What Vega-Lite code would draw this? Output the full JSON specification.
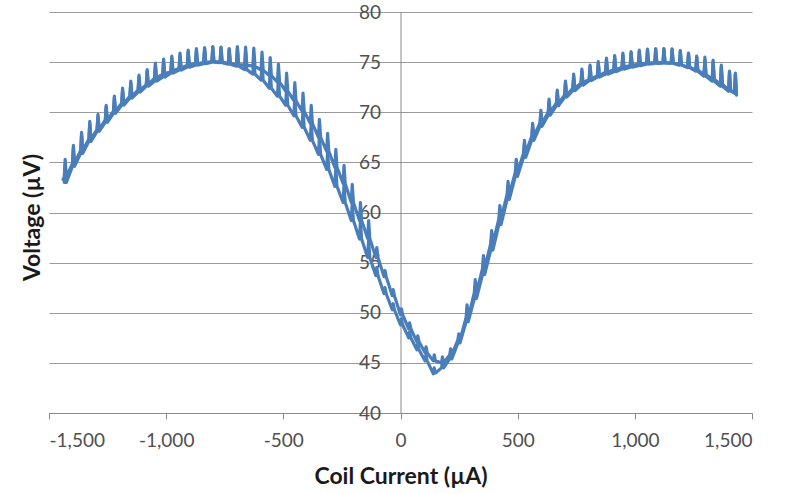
{
"$schema":"https://vega.github.io/schema/vega-lite/v6.json",
"width":703,"height":401,
"autosize":{"type":"none"},
"padding":{"left":49,"top":12,"right":38,"bottom":81},
"background":"#ffffff",
"config":{"view":{"stroke":null},"font":"Lato"},
"data":{"values":[
{"s":"A","x":-1435,"y":63.0},{"s":"A","x":-1431,"y":64.8},{"s":"A","x":-1426,"y":63.0},
{"s":"A","x":-1400,"y":64.6},{"s":"A","x":-1396,"y":66.4},{"s":"A","x":-1391,"y":64.6},
{"s":"A","x":-1365,"y":65.9},{"s":"A","x":-1361,"y":67.7},{"s":"A","x":-1356,"y":65.9},
{"s":"A","x":-1330,"y":67.1},{"s":"A","x":-1326,"y":68.9},{"s":"A","x":-1321,"y":67.1},
{"s":"A","x":-1295,"y":68.1},{"s":"A","x":-1291,"y":69.6},{"s":"A","x":-1286,"y":68.1},
{"s":"A","x":-1260,"y":69.0},{"s":"A","x":-1256,"y":70.5},{"s":"A","x":-1251,"y":69.0},
{"s":"A","x":-1225,"y":69.9},{"s":"A","x":-1221,"y":71.4},{"s":"A","x":-1216,"y":69.9},
{"s":"A","x":-1190,"y":70.7},{"s":"A","x":-1186,"y":72.2},{"s":"A","x":-1181,"y":70.7},
{"s":"A","x":-1155,"y":71.4},{"s":"A","x":-1151,"y":72.9},{"s":"A","x":-1146,"y":71.4},
{"s":"A","x":-1120,"y":72.0},{"s":"A","x":-1116,"y":73.5},{"s":"A","x":-1111,"y":72.0},
{"s":"A","x":-1085,"y":72.6},{"s":"A","x":-1081,"y":74.1},{"s":"A","x":-1076,"y":72.6},
{"s":"A","x":-1050,"y":73.1},{"s":"A","x":-1046,"y":74.6},{"s":"A","x":-1041,"y":73.1},
{"s":"A","x":-1015,"y":73.5},{"s":"A","x":-1011,"y":75.0},{"s":"A","x":-1006,"y":73.5},
{"s":"A","x":-980,"y":73.9},{"s":"A","x":-976,"y":75.4},{"s":"A","x":-971,"y":73.9},
{"s":"A","x":-945,"y":74.2},{"s":"A","x":-941,"y":75.7},{"s":"A","x":-936,"y":74.2},
{"s":"A","x":-910,"y":74.5},{"s":"A","x":-906,"y":76.0},{"s":"A","x":-901,"y":74.5},
{"s":"A","x":-875,"y":74.7},{"s":"A","x":-871,"y":76.2},{"s":"A","x":-866,"y":74.7},
{"s":"A","x":-840,"y":74.85},{"s":"A","x":-836,"y":76.35},{"s":"A","x":-831,"y":74.85},
{"s":"A","x":-805,"y":75.0},{"s":"A","x":-801,"y":76.5},{"s":"A","x":-796,"y":75.0},
{"s":"A","x":-770,"y":74.95},{"s":"A","x":-766,"y":76.45},{"s":"A","x":-761,"y":74.95},
{"s":"A","x":-735,"y":74.8},{"s":"A","x":-731,"y":76.3},{"s":"A","x":-726,"y":74.8},
{"s":"A","x":-700,"y":74.6},{"s":"A","x":-696,"y":76.4},{"s":"A","x":-691,"y":74.6},
{"s":"A","x":-665,"y":74.25},{"s":"A","x":-661,"y":76.05},{"s":"A","x":-656,"y":74.25},
{"s":"A","x":-630,"y":73.8},{"s":"A","x":-626,"y":75.6},{"s":"A","x":-621,"y":73.8},
{"s":"A","x":-595,"y":73.2},{"s":"A","x":-591,"y":75.0},{"s":"A","x":-586,"y":73.2},
{"s":"A","x":-560,"y":72.4},{"s":"A","x":-556,"y":74.2},{"s":"A","x":-551,"y":72.4},
{"s":"A","x":-525,"y":71.6},{"s":"A","x":-521,"y":73.4},{"s":"A","x":-516,"y":71.6},
{"s":"A","x":-490,"y":70.7},{"s":"A","x":-486,"y":72.5},{"s":"A","x":-481,"y":70.7},
{"s":"A","x":-455,"y":69.65},{"s":"A","x":-451,"y":71.45},{"s":"A","x":-446,"y":69.65},
{"s":"A","x":-420,"y":68.5},{"s":"A","x":-416,"y":70.3},{"s":"A","x":-411,"y":68.5},
{"s":"A","x":-385,"y":67.2},{"s":"A","x":-381,"y":69.0},{"s":"A","x":-376,"y":67.2},
{"s":"A","x":-350,"y":65.8},{"s":"A","x":-346,"y":67.6},{"s":"A","x":-341,"y":65.8},
{"s":"A","x":-315,"y":64.3},{"s":"A","x":-311,"y":66.1},{"s":"A","x":-306,"y":64.3},
{"s":"A","x":-280,"y":62.6},{"s":"A","x":-276,"y":64.4},{"s":"A","x":-271,"y":62.6},
{"s":"A","x":-245,"y":61.0},{"s":"A","x":-241,"y":62.8},{"s":"A","x":-236,"y":61.0},
{"s":"A","x":-210,"y":59.2},{"s":"A","x":-206,"y":61.0},{"s":"A","x":-201,"y":59.2},
{"s":"A","x":-175,"y":57.35},{"s":"A","x":-171,"y":59.15},{"s":"A","x":-166,"y":57.35},
{"s":"A","x":-140,"y":55.5},{"s":"A","x":-136,"y":57.3},{"s":"A","x":-131,"y":55.5},
{"s":"A","x":-105,"y":53.7},{"s":"A","x":-101,"y":54.5},{"s":"A","x":-96,"y":53.7},
{"s":"A","x":-70,"y":51.9},{"s":"A","x":-66,"y":52.5},{"s":"A","x":-61,"y":51.9},
{"s":"A","x":-35,"y":50.3},{"s":"A","x":-31,"y":50.9},{"s":"A","x":-26,"y":50.3},
{"s":"A","x":0,"y":48.8},{"s":"A","x":4,"y":49.4},{"s":"A","x":9,"y":48.8},
{"s":"A","x":35,"y":47.5},{"s":"A","x":39,"y":48.1},{"s":"A","x":44,"y":47.5},
{"s":"A","x":70,"y":46.3},{"s":"A","x":74,"y":46.9},{"s":"A","x":79,"y":46.3},
{"s":"A","x":105,"y":45.2},{"s":"A","x":109,"y":45.8},{"s":"A","x":114,"y":45.2},
{"s":"A","x":140,"y":43.9},{"s":"A","x":144,"y":44.5},{"s":"A","x":149,"y":44.0},
{"s":"A","x":175,"y":44.5},{"s":"A","x":179,"y":45.1},{"s":"A","x":184,"y":44.5},
{"s":"A","x":210,"y":45.4},{"s":"A","x":214,"y":46.0},{"s":"A","x":219,"y":45.4},
{"s":"A","x":245,"y":47.0},{"s":"A","x":249,"y":47.6},{"s":"A","x":254,"y":47.0},
{"s":"A","x":280,"y":49.1},{"s":"A","x":284,"y":50.4},{"s":"A","x":289,"y":49.1},
{"s":"A","x":315,"y":51.4},{"s":"A","x":319,"y":52.7},{"s":"A","x":324,"y":51.4},
{"s":"A","x":350,"y":53.8},{"s":"A","x":354,"y":55.1},{"s":"A","x":359,"y":53.8},
{"s":"A","x":385,"y":56.25},{"s":"A","x":389,"y":57.55},{"s":"A","x":394,"y":56.25},
{"s":"A","x":420,"y":58.8},{"s":"A","x":424,"y":60.1},{"s":"A","x":429,"y":58.8},
{"s":"A","x":455,"y":61.3},{"s":"A","x":459,"y":62.6},{"s":"A","x":464,"y":61.3},
{"s":"A","x":490,"y":63.6},{"s":"A","x":494,"y":64.9},{"s":"A","x":499,"y":63.6},
{"s":"A","x":525,"y":65.5},{"s":"A","x":529,"y":66.8},{"s":"A","x":534,"y":65.5},
{"s":"A","x":560,"y":67.2},{"s":"A","x":564,"y":68.5},{"s":"A","x":569,"y":67.2},
{"s":"A","x":595,"y":68.6},{"s":"A","x":599,"y":69.9},{"s":"A","x":604,"y":68.6},
{"s":"A","x":630,"y":69.7},{"s":"A","x":634,"y":71.0},{"s":"A","x":639,"y":69.7},
{"s":"A","x":665,"y":70.65},{"s":"A","x":669,"y":71.95},{"s":"A","x":674,"y":70.65},
{"s":"A","x":700,"y":71.5},{"s":"A","x":704,"y":72.9},{"s":"A","x":709,"y":71.5},
{"s":"A","x":735,"y":72.15},{"s":"A","x":739,"y":73.55},{"s":"A","x":744,"y":72.15},
{"s":"A","x":770,"y":72.7},{"s":"A","x":774,"y":74.1},{"s":"A","x":779,"y":72.7},
{"s":"A","x":805,"y":73.15},{"s":"A","x":809,"y":74.55},{"s":"A","x":814,"y":73.15},
{"s":"A","x":840,"y":73.5},{"s":"A","x":844,"y":74.9},{"s":"A","x":849,"y":73.5},
{"s":"A","x":875,"y":73.8},{"s":"A","x":879,"y":75.2},{"s":"A","x":884,"y":73.8},
{"s":"A","x":910,"y":74.05},{"s":"A","x":914,"y":75.45},{"s":"A","x":919,"y":74.05},
{"s":"A","x":945,"y":74.3},{"s":"A","x":949,"y":75.7},{"s":"A","x":954,"y":74.3},
{"s":"A","x":980,"y":74.5},{"s":"A","x":984,"y":75.9},{"s":"A","x":989,"y":74.5},
{"s":"A","x":1015,"y":74.65},{"s":"A","x":1019,"y":76.05},{"s":"A","x":1024,"y":74.65},
{"s":"A","x":1050,"y":74.8},{"s":"A","x":1054,"y":76.2},{"s":"A","x":1059,"y":74.8},
{"s":"A","x":1085,"y":74.87},{"s":"A","x":1089,"y":76.27},{"s":"A","x":1094,"y":74.87},
{"s":"A","x":1120,"y":74.9},{"s":"A","x":1124,"y":76.3},{"s":"A","x":1129,"y":74.9},
{"s":"A","x":1155,"y":74.9},{"s":"A","x":1159,"y":76.3},{"s":"A","x":1164,"y":74.9},
{"s":"A","x":1190,"y":74.75},{"s":"A","x":1194,"y":76.15},{"s":"A","x":1199,"y":74.75},
{"s":"A","x":1225,"y":74.5},{"s":"A","x":1229,"y":75.9},{"s":"A","x":1234,"y":74.5},
{"s":"A","x":1260,"y":74.2},{"s":"A","x":1264,"y":75.6},{"s":"A","x":1269,"y":74.2},
{"s":"A","x":1295,"y":73.75},{"s":"A","x":1299,"y":75.15},{"s":"A","x":1304,"y":73.75},
{"s":"A","x":1330,"y":73.3},{"s":"A","x":1334,"y":75.2},{"s":"A","x":1339,"y":73.3},
{"s":"A","x":1365,"y":72.8},{"s":"A","x":1369,"y":74.7},{"s":"A","x":1374,"y":72.8},
{"s":"A","x":1400,"y":72.2},{"s":"A","x":1404,"y":74.1},{"s":"A","x":1409,"y":72.2},
{"s":"A","x":1425,"y":71.9},{"s":"A","x":1429,"y":73.8},{"s":"A","x":1434,"y":71.7},
{"s":"B","x":-1440,"y":63.3},
{"s":"B","x":-1435,"y":63.5},{"s":"B","x":-1431,"y":65.3},{"s":"B","x":-1426,"y":63.5},
{"s":"B","x":-1400,"y":64.9},{"s":"B","x":-1396,"y":66.7},{"s":"B","x":-1391,"y":64.9},
{"s":"B","x":-1365,"y":66.2},{"s":"B","x":-1361,"y":68.0},{"s":"B","x":-1356,"y":66.2},
{"s":"B","x":-1330,"y":67.3},{"s":"B","x":-1326,"y":69.1},{"s":"B","x":-1321,"y":67.3},
{"s":"B","x":-1295,"y":68.3},{"s":"B","x":-1291,"y":69.8},{"s":"B","x":-1286,"y":68.3},
{"s":"B","x":-1260,"y":69.2},{"s":"B","x":-1256,"y":70.7},{"s":"B","x":-1251,"y":69.2},
{"s":"B","x":-1225,"y":70.1},{"s":"B","x":-1221,"y":71.6},{"s":"B","x":-1216,"y":70.1},
{"s":"B","x":-1190,"y":70.9},{"s":"B","x":-1186,"y":72.4},{"s":"B","x":-1181,"y":70.9},
{"s":"B","x":-1155,"y":71.6},{"s":"B","x":-1151,"y":73.1},{"s":"B","x":-1146,"y":71.6},
{"s":"B","x":-1120,"y":72.2},{"s":"B","x":-1116,"y":73.7},{"s":"B","x":-1111,"y":72.2},
{"s":"B","x":-1085,"y":72.75},{"s":"B","x":-1081,"y":74.25},{"s":"B","x":-1076,"y":72.75},
{"s":"B","x":-1050,"y":73.4},{"s":"B","x":-1046,"y":74.9},{"s":"B","x":-1041,"y":73.4},
{"s":"B","x":-1015,"y":73.8},{"s":"B","x":-1011,"y":75.3},{"s":"B","x":-1006,"y":73.8},
{"s":"B","x":-980,"y":74.1},{"s":"B","x":-976,"y":75.6},{"s":"B","x":-971,"y":74.1},
{"s":"B","x":-945,"y":74.4},{"s":"B","x":-941,"y":75.9},{"s":"B","x":-936,"y":74.4},
{"s":"B","x":-910,"y":74.7},{"s":"B","x":-906,"y":76.2},{"s":"B","x":-901,"y":74.7},
{"s":"B","x":-875,"y":74.85},{"s":"B","x":-871,"y":76.35},{"s":"B","x":-866,"y":74.85},
{"s":"B","x":-840,"y":74.95},{"s":"B","x":-836,"y":76.45},{"s":"B","x":-831,"y":74.95},
{"s":"B","x":-805,"y":75.05},{"s":"B","x":-801,"y":76.55},{"s":"B","x":-796,"y":75.05},
{"s":"B","x":-770,"y":75.0},{"s":"B","x":-766,"y":76.5},{"s":"B","x":-761,"y":75.0},
{"s":"B","x":-735,"y":74.85},{"s":"B","x":-731,"y":76.35},{"s":"B","x":-726,"y":74.85},
{"s":"B","x":-700,"y":74.75},{"s":"B","x":-696,"y":76.55},{"s":"B","x":-691,"y":74.75},
{"s":"B","x":-665,"y":74.7},{"s":"B","x":-661,"y":76.5},{"s":"B","x":-656,"y":74.7},
{"s":"B","x":-630,"y":74.6},{"s":"B","x":-626,"y":76.4},{"s":"B","x":-621,"y":74.6},
{"s":"B","x":-595,"y":74.2},{"s":"B","x":-591,"y":76.0},{"s":"B","x":-586,"y":74.2},
{"s":"B","x":-560,"y":73.65},{"s":"B","x":-556,"y":75.45},{"s":"B","x":-551,"y":73.65},
{"s":"B","x":-525,"y":73.0},{"s":"B","x":-521,"y":74.8},{"s":"B","x":-516,"y":73.0},
{"s":"B","x":-490,"y":72.1},{"s":"B","x":-486,"y":73.9},{"s":"B","x":-481,"y":72.1},
{"s":"B","x":-455,"y":71.15},{"s":"B","x":-451,"y":72.95},{"s":"B","x":-446,"y":71.15},
{"s":"B","x":-420,"y":70.1},{"s":"B","x":-416,"y":71.9},{"s":"B","x":-411,"y":70.1},
{"s":"B","x":-385,"y":68.9},{"s":"B","x":-381,"y":70.7},{"s":"B","x":-376,"y":68.9},
{"s":"B","x":-350,"y":67.5},{"s":"B","x":-346,"y":69.3},{"s":"B","x":-341,"y":67.5},
{"s":"B","x":-315,"y":66.1},{"s":"B","x":-311,"y":67.9},{"s":"B","x":-306,"y":66.1},
{"s":"B","x":-280,"y":64.5},{"s":"B","x":-276,"y":66.3},{"s":"B","x":-271,"y":64.5},
{"s":"B","x":-245,"y":62.9},{"s":"B","x":-241,"y":64.7},{"s":"B","x":-236,"y":62.9},
{"s":"B","x":-210,"y":61.0},{"s":"B","x":-206,"y":62.8},{"s":"B","x":-201,"y":61.0},
{"s":"B","x":-175,"y":59.2},{"s":"B","x":-171,"y":61.0},{"s":"B","x":-166,"y":59.2},
{"s":"B","x":-140,"y":57.4},{"s":"B","x":-136,"y":59.2},{"s":"B","x":-131,"y":57.4},
{"s":"B","x":-105,"y":55.5},{"s":"B","x":-101,"y":56.5},{"s":"B","x":-96,"y":55.5},
{"s":"B","x":-70,"y":53.6},{"s":"B","x":-66,"y":54.2},{"s":"B","x":-61,"y":53.6},
{"s":"B","x":-35,"y":51.7},{"s":"B","x":-31,"y":52.3},{"s":"B","x":-26,"y":51.7},
{"s":"B","x":0,"y":49.8},{"s":"B","x":4,"y":50.4},{"s":"B","x":9,"y":49.8},
{"s":"B","x":35,"y":48.4},{"s":"B","x":39,"y":49.0},{"s":"B","x":44,"y":48.4},
{"s":"B","x":70,"y":47.1},{"s":"B","x":74,"y":47.7},{"s":"B","x":79,"y":47.1},
{"s":"B","x":105,"y":46.0},{"s":"B","x":109,"y":46.6},{"s":"B","x":114,"y":46.0},
{"s":"B","x":140,"y":45.2},{"s":"B","x":144,"y":45.8},{"s":"B","x":149,"y":45.2},
{"s":"B","x":175,"y":45.0},{"s":"B","x":179,"y":45.6},{"s":"B","x":184,"y":45.0},
{"s":"B","x":210,"y":45.8},{"s":"B","x":214,"y":46.4},{"s":"B","x":219,"y":45.8},
{"s":"B","x":245,"y":47.3},{"s":"B","x":249,"y":47.9},{"s":"B","x":254,"y":47.3},
{"s":"B","x":280,"y":49.5},{"s":"B","x":284,"y":50.8},{"s":"B","x":289,"y":49.5},
{"s":"B","x":315,"y":52.0},{"s":"B","x":319,"y":53.3},{"s":"B","x":324,"y":52.0},
{"s":"B","x":350,"y":54.4},{"s":"B","x":354,"y":55.7},{"s":"B","x":359,"y":54.4},
{"s":"B","x":385,"y":56.9},{"s":"B","x":389,"y":58.2},{"s":"B","x":394,"y":56.9},
{"s":"B","x":420,"y":59.4},{"s":"B","x":424,"y":60.7},{"s":"B","x":429,"y":59.4},
{"s":"B","x":455,"y":61.8},{"s":"B","x":459,"y":63.1},{"s":"B","x":464,"y":61.8},
{"s":"B","x":490,"y":64.0},{"s":"B","x":494,"y":65.3},{"s":"B","x":499,"y":64.0},
{"s":"B","x":525,"y":65.9},{"s":"B","x":529,"y":67.2},{"s":"B","x":534,"y":65.9},
{"s":"B","x":560,"y":67.6},{"s":"B","x":564,"y":68.9},{"s":"B","x":569,"y":67.6},
{"s":"B","x":595,"y":68.9},{"s":"B","x":599,"y":70.2},{"s":"B","x":604,"y":68.9},
{"s":"B","x":630,"y":70.0},{"s":"B","x":634,"y":71.3},{"s":"B","x":639,"y":70.0},
{"s":"B","x":665,"y":70.9},{"s":"B","x":669,"y":72.2},{"s":"B","x":674,"y":70.9},
{"s":"B","x":700,"y":71.7},{"s":"B","x":704,"y":73.1},{"s":"B","x":709,"y":71.7},
{"s":"B","x":735,"y":72.4},{"s":"B","x":739,"y":73.8},{"s":"B","x":744,"y":72.4},
{"s":"B","x":770,"y":72.9},{"s":"B","x":774,"y":74.3},{"s":"B","x":779,"y":72.9},
{"s":"B","x":805,"y":73.3},{"s":"B","x":809,"y":74.7},{"s":"B","x":814,"y":73.3},
{"s":"B","x":840,"y":73.65},{"s":"B","x":844,"y":75.05},{"s":"B","x":849,"y":73.65},
{"s":"B","x":875,"y":74.0},{"s":"B","x":879,"y":75.4},{"s":"B","x":884,"y":74.0},
{"s":"B","x":910,"y":74.25},{"s":"B","x":914,"y":75.65},{"s":"B","x":919,"y":74.25},
{"s":"B","x":945,"y":74.5},{"s":"B","x":949,"y":75.9},{"s":"B","x":954,"y":74.5},
{"s":"B","x":980,"y":74.65},{"s":"B","x":984,"y":76.05},{"s":"B","x":989,"y":74.65},
{"s":"B","x":1015,"y":74.8},{"s":"B","x":1019,"y":76.2},{"s":"B","x":1024,"y":74.8},
{"s":"B","x":1050,"y":74.9},{"s":"B","x":1054,"y":76.3},{"s":"B","x":1059,"y":74.9},
{"s":"B","x":1085,"y":74.95},{"s":"B","x":1089,"y":76.35},{"s":"B","x":1094,"y":74.95},
{"s":"B","x":1120,"y":74.95},{"s":"B","x":1124,"y":76.35},{"s":"B","x":1129,"y":74.95},
{"s":"B","x":1155,"y":74.9},{"s":"B","x":1159,"y":76.3},{"s":"B","x":1164,"y":74.9},
{"s":"B","x":1190,"y":74.7},{"s":"B","x":1194,"y":76.1},{"s":"B","x":1199,"y":74.7},
{"s":"B","x":1225,"y":74.45},{"s":"B","x":1229,"y":75.85},{"s":"B","x":1234,"y":74.45},
{"s":"B","x":1260,"y":74.1},{"s":"B","x":1264,"y":75.5},{"s":"B","x":1269,"y":74.1},
{"s":"B","x":1295,"y":73.6},{"s":"B","x":1299,"y":75.5},{"s":"B","x":1304,"y":73.6},
{"s":"B","x":1330,"y":73.1},{"s":"B","x":1334,"y":75.0},{"s":"B","x":1339,"y":73.1},
{"s":"B","x":1365,"y":72.6},{"s":"B","x":1369,"y":74.5},{"s":"B","x":1374,"y":72.6},
{"s":"B","x":1400,"y":72.1},{"s":"B","x":1404,"y":74.0},{"s":"B","x":1409,"y":72.1},
{"s":"B","x":1425,"y":72.0},{"s":"B","x":1429,"y":73.9},{"s":"B","x":1434,"y":71.9}
]},
"mark":{"type":"line","color":"#4a7ebb","strokeWidth":3.2,"strokeJoin":"round","strokeCap":"round","clip":true},
"encoding":{
"detail":{"field":"s"},
"x":{"field":"x","type":"quantitative","scale":{"domain":[-1500,1500],"nice":false,"zero":false},
"axis":{"values":[-1500,-1000,-500,0,500,1000,1500],"grid":false,
"labelExpr":"datum.value < 0 ? '-' + format(-datum.value, ',') : format(datum.value, ',')",
"labelFont":"Lato","labelFontSize":19,"labelColor":"#505050","labelPadding":12,
"tickSize":6,"tickColor":"#8a8a8a","domainColor":"#8a8a8a",
"title":"Coil Current (µA)","titleFont":"Lato","titleFontSize":23,"titleFontWeight":"bold","titleColor":"#1a1a1a",
"titleY":63,"titleBaseline":"middle"}},
"y":{"field":"y","type":"quantitative","scale":{"domain":[40,80],"nice":false,"zero":false},
"axis":{"offset":-351.5,"values":[40,45,50,55,60,65,70,75,80],"grid":true,"gridColor":"#9a9a9a","gridWidth":1,
"ticks":false,"domainColor":"#8a8a8a",
"labelFont":"Lato","labelFontSize":19,"labelColor":"#505050","labelPadding":20,
"title":"Voltage (µV)","titleFont":"Lato","titleFontSize":23,"titleFontWeight":"bold","titleColor":"#1a1a1a",
"titleX":-368,"titleY":205,"titleAngle":270,"titleAlign":"center","titleBaseline":"middle"}}
}
}
